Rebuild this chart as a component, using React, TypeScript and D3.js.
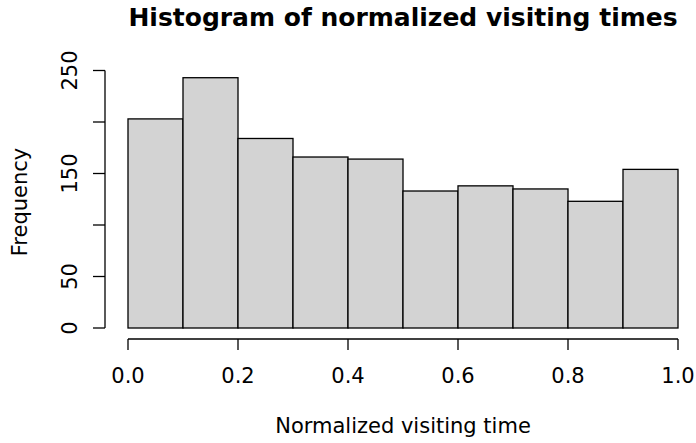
import React from "react";
import * as d3 from "d3";

// Histogram bins (left/right edges) and their counts
const binStarts = [0.0, 0.1, 0.2, 0.3, 0.4, 0.5, 0.6, 0.7, 0.8, 0.9];
const binEnds = [0.1, 0.2, 0.3, 0.4, 0.5, 0.6, 0.7, 0.8, 0.9, 1.0];
const counts = [203, 243, 184, 166, 164, 133, 138, 135, 123, 154];

const xTicks = [0.0, 0.2, 0.4, 0.6, 0.8, 1.0];
const yTicks = [0, 50, 100, 150, 200, 250];
const yTickLabels = [0, 50, 150, 250];

const title = "Histogram of normalized visiting times";
const xTitle = "Normalized visiting time";
const yTitle = "Frequency";

const W = 696;
const H = 443;
const FONT = "DejaVu Sans, sans-serif";

export default function App() {
  const x = d3.scaleLinear().domain([0, 1]).range([128, 678]);
  const y = d3.scaleLinear().domain([0, 250]).range([328, 70.5]);
  const axisY = 339;
  const axisX = 105;

  return (
    <svg
      width={W}
      height={H}
      style={{ position: "absolute", left: 0, top: 0, background: "#fff" }}
      fontFamily={FONT}
    >
      <text x={403} y={26} textAnchor="middle" fontWeight="bold" fontSize={25} fill="#000">
        {title}
      </text>

      {counts.map((c, i) => (
        <rect
          key={i}
          x={x(binStarts[i])}
          y={y(c)}
          width={x(binEnds[i]) - x(binStarts[i])}
          height={y(0) - y(c)}
          fill="#D3D3D3"
          stroke="#000"
          strokeWidth={1.3}
        />
      ))}

      {/* x axis */}
      <line x1={x(0)} x2={x(1)} y1={axisY} y2={axisY} stroke="#000" strokeWidth={1.3} />
      {xTicks.map((t) => (
        <g key={t}>
          <line x1={x(t)} x2={x(t)} y1={axisY} y2={axisY + 11} stroke="#000" strokeWidth={1.3} />
          <text x={x(t)} y={383} textAnchor="middle" fontSize={21} fill="#000">
            {t.toFixed(1)}
          </text>
        </g>
      ))}
      <text x={403} y={433} textAnchor="middle" fontSize={21} fill="#000">
        {xTitle}
      </text>

      {/* y axis */}
      <line x1={axisX} x2={axisX} y1={y(0)} y2={y(250)} stroke="#000" strokeWidth={1.3} />
      {yTicks.map((t) => (
        <line key={t} x1={axisX - 12} x2={axisX} y1={y(t)} y2={y(t)} stroke="#000" strokeWidth={1.3} />
      ))}
      {yTickLabels.map((t) => (
        <text
          key={t}
          transform={`translate(77, ${y(t)}) rotate(-90)`}
          textAnchor="middle"
          fontSize={21}
          fill="#000"
        >
          {t}
        </text>
      ))}
      <text
        transform={`translate(26.5, 202) rotate(-90)`}
        textAnchor="middle"
        fontSize={21}
        fill="#000"
      >
        {yTitle}
      </text>
    </svg>
  );
}
